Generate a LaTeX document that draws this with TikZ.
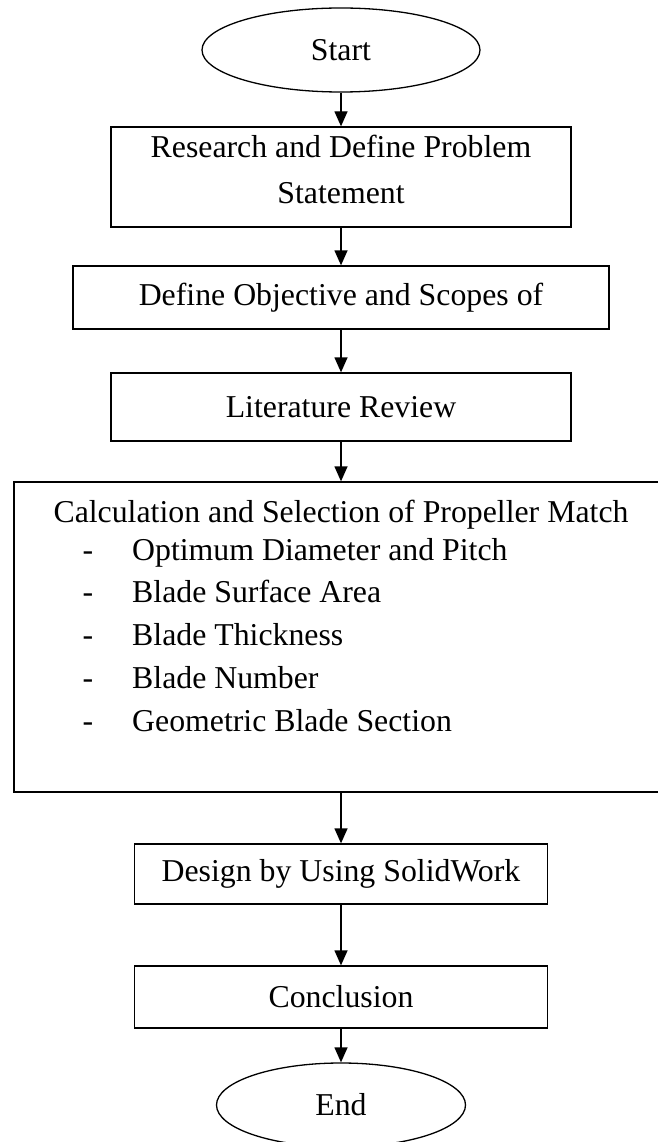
\documentclass[tikz,border=0pt]{standalone}
\usepackage{fontspec}
\setmainfont{Liberation Serif}
\usetikzlibrary{arrows.meta, shapes.geometric, positioning}

\begin{document}
\begin{tikzpicture}[x=1pt, y=-1pt,
    every node/.style={font=\fontsize{31.8}{46}\selectfont},
    procbox/.style={draw, line width=1.3pt, inner sep=0pt, align=center},
    termnode/.style={draw, ellipse, line width=1.3pt, inner sep=0pt},
    flowarrow/.style={line width=1.3pt, -{Triangle[length=15pt, width=13pt]}}]
  \def\cx{341} % centre line of the chart
  \def\dx{88} % x of the dashes
  \def\tx{132} % x where the list texts start
  \useasboundingbox (0,0) rectangle (657,1142);

  \node[termnode, minimum width=278pt, minimum height=84pt] (start) at (\cx,50) {Start};
  \node[procbox, minimum width=460pt, minimum height=100pt, text depth=16pt]
      (research) at (\cx,177) {Research and Define Problem\\Statement};
  \node[procbox, minimum width=536pt, minimum height=63pt] (objective) at (\cx,297.5) {Define Objective and Scopes of};
  \node[procbox, minimum width=460pt, minimum height=68pt] (literature) at (\cx,407) {Literature Review};

  % big box, its right side runs off the page
  \node[procbox, minimum width=654pt, minimum height=310pt] (calc) at (\cx,637) {};
  \node[inner sep=0pt, anchor=base] (calchead) at (\cx,522) {Calculation and Selection of Propeller Match};
  \foreach \yb/\txt [count=\i] in {560/Optimum Diameter and Pitch, 602/Blade Surface Area,
      645/Blade Thickness, 688/Blade Number, 731/Geometric Blade Section}
  {
      \node[inner sep=0pt, anchor=base] (dash\i) at (\dx,\yb) {-};
      \node[inner sep=0pt, anchor=base west] (item\i) at (\tx,\yb) {\txt};
  }

  \node[procbox, minimum width=413pt, minimum height=60pt] (design) at (\cx,874) {Design by Using SolidWork};
  \node[procbox, minimum width=413pt, minimum height=62pt] (conclusion) at (\cx,997) {Conclusion};
  \node[termnode, minimum width=249pt, minimum height=84pt] (finish) at (\cx,1105) {End};

  \draw[flowarrow] (start) -- (research);
  \draw[flowarrow] (research) -- (objective);
  \draw[flowarrow] (objective) -- (literature);
  \draw[flowarrow] (literature) -- (calc);
  \draw[flowarrow] (calc) -- (design);
  \draw[flowarrow] (design) -- (conclusion);
  \draw[flowarrow] (conclusion) -- (finish);
\end{tikzpicture}
\end{document}
